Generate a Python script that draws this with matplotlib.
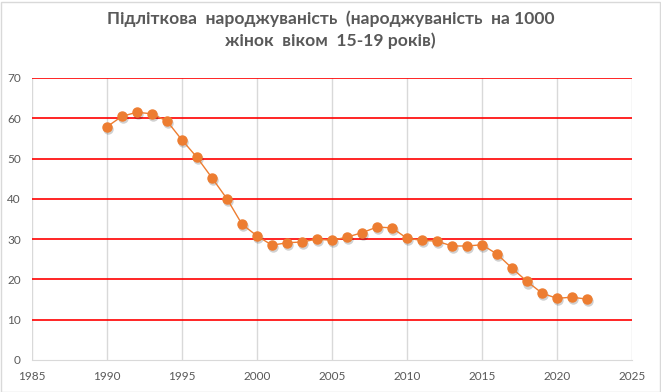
import matplotlib
matplotlib.use("Agg")
import matplotlib.pyplot as plt
import matplotlib.transforms as mtransforms
from matplotlib.patches import Rectangle

years = list(range(1990, 2023))
rates = [57.9, 60.5, 61.5, 61.1, 59.3, 54.6, 50.3, 45.2, 40.0, 33.7,
         30.8, 28.5, 29.1, 29.3, 30.0, 29.7, 30.5, 31.6, 33.0, 32.8,
         30.2, 29.7, 29.5, 28.3, 28.3, 28.6, 26.3, 22.8, 19.5, 16.6,
         15.3, 15.6, 15.1]
x_ticks = list(range(1985, 2026, 5))
y_ticks = list(range(0, 71, 10))
title = "Підліткова  народжуваність  (народжуваність  на 1000\nжінок  віком  15-19 років)"

plt.rcParams['font.family'] = ['Lato', 'DejaVu Sans']

fig = plt.figure(figsize=(6.61, 3.92), dpi=100)
ax = fig.add_axes([32/661, 32/392, 600/661, 282/392])

ax.set_xlim(1985, 2025)
ax.set_ylim(0, 70)
ax.set_xticks(x_ticks)
ax.set_yticks(y_ticks)

for xv in x_ticks:
    ax.axvline(xv, color='#D9D9D9', lw=1.0, zorder=1)
for yv in y_ticks[1:]:
    ax.axhline(yv, color='#FF0000', lw=1.2, zorder=1)

shadow_tr = mtransforms.offset_copy(ax.transData, fig=fig, x=1.0, y=-1.5, units='points')
ax.plot(years, rates, linestyle='none', marker='o', markersize=7.5,
        markerfacecolor='#000000', markeredgecolor='none', alpha=0.18,
        transform=shadow_tr, zorder=2)
ax.plot(years, rates, color='#ED7D31', lw=1.0, marker='o', markersize=6.5,
        markerfacecolor='#ED7D31', markeredgecolor='#ED7D31', zorder=3)

for s in ['top', 'right', 'left']:
    ax.spines[s].set_visible(False)
ax.spines['bottom'].set_color('#D9D9D9')
ax.tick_params(axis='both', length=0, labelsize=8.5, labelcolor='#595959')
ax.tick_params(axis='y', pad=8)
ax.tick_params(axis='x', pad=8)

fig.text(0.5, 0.925, title, ha='center', va='center', fontsize=12.6,
         fontweight='bold', color='#595959', linespacing=1.4)

fig.patches.append(Rectangle((0.5/661, 0.5/392), 659/661, 390/392, transform=fig.transFigure,
                             fill=False, edgecolor='#D9D9D9', lw=1.0))

fig.savefig('out.png', dpi=100, facecolor='white')
